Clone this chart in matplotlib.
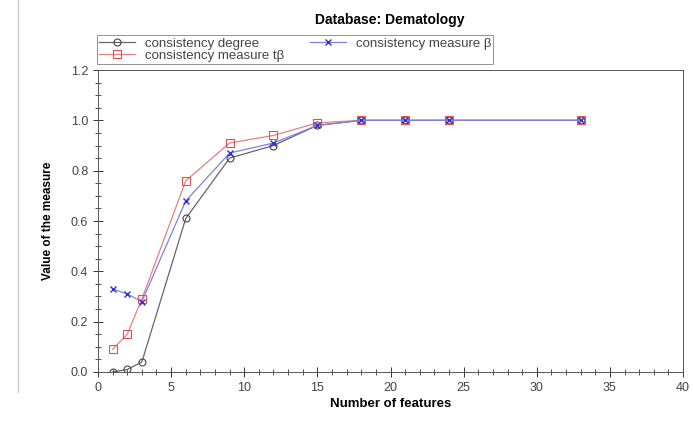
import matplotlib
matplotlib.use("Agg")
import matplotlib.pyplot as plt
from matplotlib.ticker import MultipleLocator

features = [1, 2, 3, 6, 9, 12, 15, 18, 21, 24, 33]
consistency_degree = [0.0, 0.01, 0.04, 0.61, 0.85, 0.90, 0.98, 1.0, 1.0, 1.0, 1.0]
consistency_tb = [0.09, 0.15, 0.29, 0.76, 0.91, 0.94, 0.99, 1.0, 1.0, 1.0, 1.0]
consistency_b = [0.33, 0.31, 0.28, 0.68, 0.87, 0.91, 0.98, 1.0, 1.0, 1.0, 1.0]

plt.rcParams['font.family'] = ['Liberation Sans', 'DejaVu Sans']

fig = plt.figure(figsize=(6.93, 4.21), dpi=100)
ax = fig.add_axes([0.1414, 0.1164, 0.8442, 0.7173])

l1, = ax.plot(features, consistency_degree, color='#666666', lw=0.9,
              marker='o', ms=5, mfc='none', mec='#444444', mew=0.8)
l2, = ax.plot(features, consistency_tb, color='#e88080', lw=0.9,
              marker='s', ms=6, mfc='none', mec='#e05050', mew=0.8)
l3, = ax.plot(features, consistency_b, color='#8080e0', lw=0.9,
              marker='x', ms=5, mec='#3030d0', mew=1.0)

ax.set_xlim(0, 40)
ax.set_ylim(0, 1.2)
ax.xaxis.set_major_locator(MultipleLocator(5))
ax.xaxis.set_minor_locator(MultipleLocator(1))
ax.yaxis.set_major_locator(MultipleLocator(0.2))
ax.yaxis.set_minor_locator(MultipleLocator(0.05))
ax.yaxis.set_major_formatter(plt.FormatStrFormatter('%.1f'))
ax.tick_params(which='major', direction='inout', length=7, width=0.7,
               labelsize=9, colors='#333333', labelcolor='#444444')
ax.tick_params(which='minor', direction='inout', length=4, width=0.6, colors='#333333')
for s in ax.spines.values():
    s.set_linewidth(0.7)
    s.set_color('#555555')

ax.set_xlabel('Number of features', fontsize=9.5, fontweight='bold', labelpad=3)
ax.set_ylabel('Value of the measure', fontsize=8.5, fontweight='bold', labelpad=12)

fig.text(0.563, 0.953, 'Database: Dematology', ha='center', va='center',
         fontsize=10, fontweight='bold')

leg = fig.legend([l1, l2, l3],
                 ['consistency degree', 'consistency measure t\u03b2', 'consistency measure \u03b2'],
                 ncol=2, loc='upper left', bbox_to_anchor=(0.14, 0.916),
                 fontsize=9.5, frameon=True, fancybox=False, borderpad=0.15,
                 handlelength=2.7, columnspacing=2.0, labelspacing=0.02,
                 handletextpad=0.75, borderaxespad=0)
leg.get_frame().set_edgecolor('#777777')
leg.get_frame().set_linewidth(0.7)
for t in leg.get_texts():
    t.set_color('#444444')

fig.add_artist(plt.Line2D([0.026, 0.026], [0.07, 1.0], color='#cccccc', lw=1))

fig.savefig('out.png', dpi=100)
